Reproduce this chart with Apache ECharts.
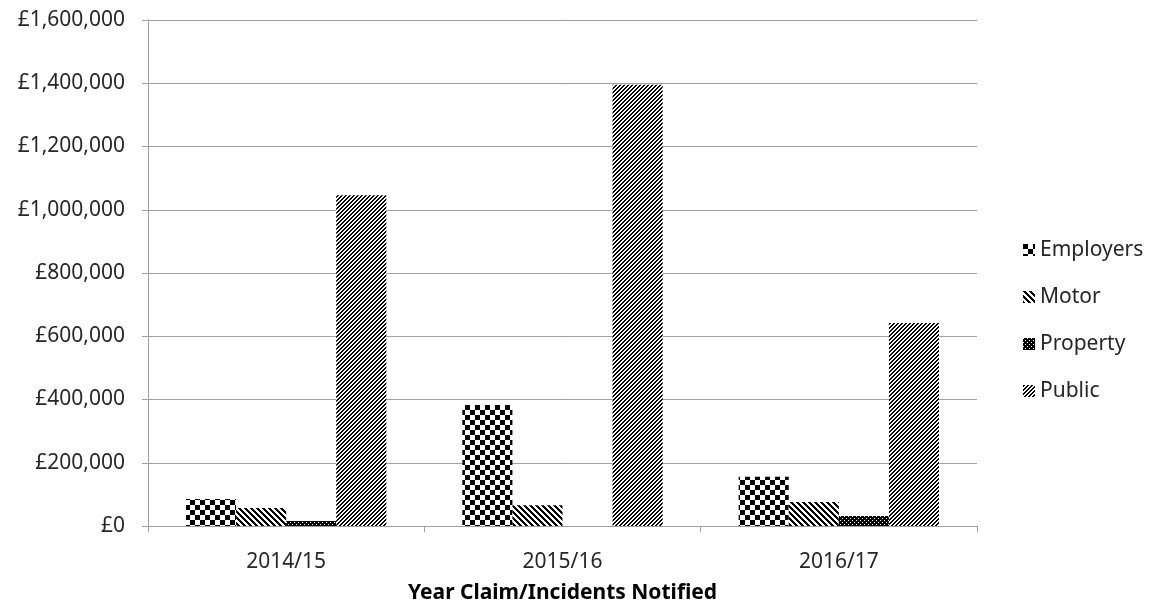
<!DOCTYPE html>
<html><head><meta charset="utf-8">
<script src="https://cdn.jsdelivr.net/npm/echarts@6/dist/echarts.min.js"></script>
<style>html,body{margin:0;padding:0;background:#fff}#c{width:1152px;height:610px}</style>
</head><body><div id="c"></div>
<script>
const categories = ['2014/15', '2015/16', '2016/17'];
const seriesNames = ['Employers', 'Motor', 'Property', 'Public'];
const employers = [85000, 383000, 156000];
const motor = [57000, 66000, 76000];
const property = [16000, 0, 32000];
const publicLiab = [1046000, 1395000, 642000];
const yMin = 0, yMax = 1600000, yStep = 200000;

function pattern(size, isBlack) {
  const c = document.createElement('canvas');
  c.width = c.height = size;
  const ctx = c.getContext('2d');
  const img = ctx.createImageData(size, size);
  for (let y = 0; y < size; y++) for (let x = 0; x < size; x++) {
    const i = (y * size + x) * 4;
    const v = isBlack(x, y) ? 0 : 255;
    img.data[i] = img.data[i + 1] = img.data[i + 2] = v; img.data[i + 3] = 255;
  }
  ctx.putImageData(img, 0, 0);
  return { image: c, repeat: 'repeat' };
}
const fills = [
  pattern(10, (x, y) => (Math.floor(x / 5) + Math.floor(y / 5)) % 2 === 0),
  pattern(6, (x, y) => ((x - y + 60) % 6) < 3),
  pattern(4, (x, y) => !((x === 0 && y === 0) || (x === 2 && y === 2))),
  pattern(4, (x, y) => ((x + y) % 4) < 2)
];
const values = [employers, motor, property, publicLiab];
const font = 'Noto Sans';
const txt = '#262626';
const chart = echarts.init(document.getElementById('c'), null, { renderer: 'canvas' });
chart.setOption({
  animation: false,
  backgroundColor: '#fff',
  grid: { left: 148, right: 175, top: 20, bottom: 84 },
  legend: {
    orient: 'vertical', left: 1018, top: 233, itemWidth: 12, itemHeight: 12, itemGap: 23,
    icon: 'rect',
    textStyle: { fontFamily: font, fontSize: 21, color: txt, lineHeight: 24 },
    data: seriesNames
  },
  xAxis: {
    type: 'category', data: categories,
    name: 'Year Claim/Incidents Notified', nameLocation: 'middle', nameGap: 57,
    nameTextStyle: { fontFamily: font, fontSize: 21, fontWeight: 'bold', color: '#000' },
    axisLine: { lineStyle: { color: '#a0a0a0' } },
    axisTick: { show: true, length: 6, lineStyle: { color: '#a0a0a0' } },
    axisLabel: { fontFamily: font, fontSize: 21, color: txt, margin: 26 }
  },
  yAxis: {
    type: 'value', min: yMin, max: yMax, interval: yStep,
    axisLine: { show: true, lineStyle: { color: '#a0a0a0' } },
    axisTick: { show: true, length: 6, lineStyle: { color: '#a0a0a0' } },
    splitLine: { lineStyle: { color: '#a0a0a0' } },
    axisLabel: { fontFamily: font, fontSize: 21, color: txt, margin: 23,
      formatter: v => '£' + v.toLocaleString('en-GB') }
  },
  series: seriesNames.map((n, i) => ({
    name: n, type: 'bar', data: values[i], barGap: '0%', barCategoryGap: '27.5%',
    itemStyle: { color: fills[i] }
  }))
});
</script></body></html>
